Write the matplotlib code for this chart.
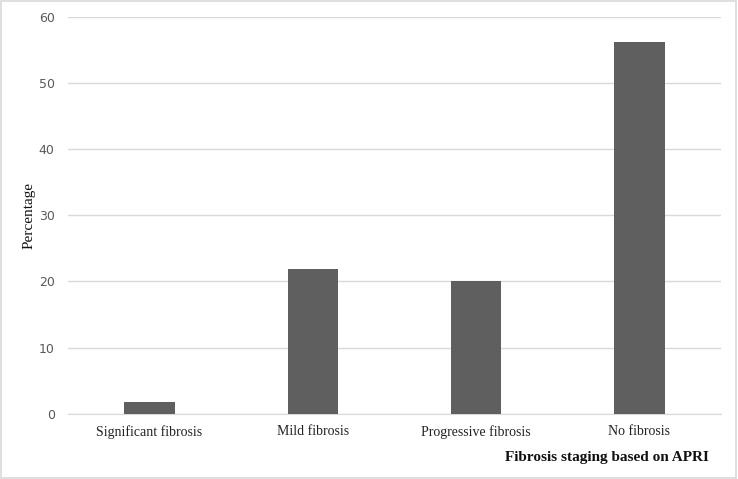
import matplotlib.pyplot as plt
from matplotlib.patches import Rectangle

categories = ["Significant fibrosis", "Mild fibrosis", "Progressive fibrosis", "No fibrosis"]
percentages = [1.8, 21.9, 20.1, 56.2]
y_ticks = [0, 10, 20, 30, 40, 50, 60]

fig = plt.figure(figsize=(7.38, 4.79), dpi=100)
ax = fig.add_axes([0.092, 0.136, 0.885, 0.829])

x = range(len(categories))
ax.bar(x, percentages, width=0.31, color="#5f5f5f", zorder=3)

ax.set_ylim(0, 60)
ax.set_xlim(-0.5, len(categories) - 0.5)
ax.set_yticks(y_ticks)
ax.set_xticks(list(x))
ax.set_xticklabels(categories, fontfamily="Liberation Serif", fontsize=10, color="#222222")
ax.tick_params(axis="y", labelsize=9, labelcolor="#595959", length=0, pad=9.5)
ax.tick_params(axis="x", length=0, pad=8)
ax.grid(axis="y", color="#d9d9d9", linewidth=1, zorder=0)

for s in ["top", "right", "left"]:
    ax.spines[s].set_visible(False)
ax.spines["bottom"].set_color("#d9d9d9")

fig.text(0.039, 0.551, "Percentage", fontfamily="Liberation Serif", fontsize=11,
         rotation=90, ha="center", va="center", color="#111111")
fig.text(0.822, 0.044, "Fibrosis staging based on APRI", fontfamily="Liberation Serif",
         fontsize=11, fontweight="bold", ha="center", va="center", color="#111111")

fig.patches.append(Rectangle((0.002, 0.002), 0.995, 0.995, transform=fig.transFigure,
                             fill=False, edgecolor="#d9d9d9", linewidth=1.2))

fig.savefig("out.png", dpi=100)
